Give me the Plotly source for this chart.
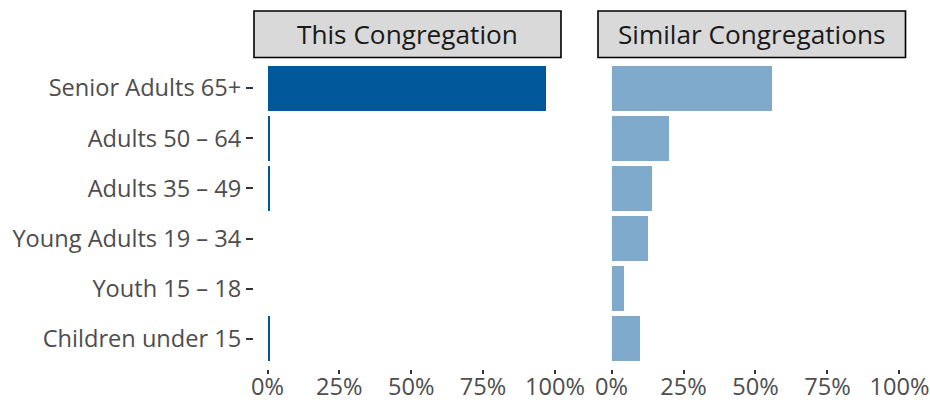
import plotly.graph_objects as go

categories = ["Senior Adults 65+", "Adults 50 – 64", "Adults 35 – 49",
              "Young Adults 19 – 34", "Youth 15 – 18", "Children under 15"]
this_congregation = [0.97, 0.01, 0.01, 0.0, 0.0, 0.01]
similar_congregations = [0.556, 0.198, 0.139, 0.125, 0.045, 0.10]
panel_titles = ["This Congregation", "Similar Congregations"]
x_tickvals = [0, 0.25, 0.5, 0.75, 1.0]
x_ticktext = ["0%", "25%", "50%", "75%", "100%"]

W, H = 930, 402
FONT = "Open Sans"
TICK_SIZE = 23.6
STRIP_SIZE = 26.2

fig = go.Figure()
fig.add_trace(go.Bar(y=categories, x=this_congregation, orientation="h",
                     marker=dict(color="#00579A", line=dict(width=0)),
                     width=0.9, xaxis="x", yaxis="y", showlegend=False))
fig.add_trace(go.Bar(y=categories, x=similar_congregations, orientation="h",
                     marker=dict(color="#7FAACC", line=dict(width=0)),
                     width=0.9, xaxis="x2", yaxis="y2", showlegend=False))

def px_x(p):
    return p / W

def px_y(p):
    return 1 - p / H

left_dom = [px_x(254), px_x(561)]
right_dom = [px_x(598), px_x(905.5)]
y_dom = [px_y(369), px_y(58)]
xr = [-0.047, 1.021]

xaxis_common = dict(range=xr, tickvals=x_tickvals, ticktext=x_ticktext,
                    showgrid=False, zeroline=False, showline=False, automargin=False,
                    ticks="outside", ticklen=4, tickwidth=1.5, tickcolor="#333333",
                    ticklabelstandoff=-7,
                    tickfont=dict(family=FONT, size=TICK_SIZE, color="#4D4D4D"),
                    fixedrange=True)
fig.update_layout(
    width=W, height=H, autosize=False,
    margin=dict(l=0, r=0, t=0, b=0, pad=0, autoexpand=False),
    paper_bgcolor="white", plot_bgcolor="white",
    bargap=0,
    xaxis=dict(domain=left_dom, anchor="y", **xaxis_common),
    xaxis2=dict(domain=right_dom, anchor="y2", **xaxis_common),
    yaxis=dict(domain=y_dom, anchor="x", categoryorder="array",
               categoryarray=categories[::-1], range=[-0.6, 5.6], automargin=False,
               showgrid=False, zeroline=False, showline=False,
               ticks="outside", ticklen=7, tickwidth=2, tickcolor="#333333",
               tickfont=dict(family=FONT, size=TICK_SIZE, color="#4D4D4D")),
    yaxis2=dict(domain=y_dom, anchor="x2", matches="y", categoryorder="array",
                categoryarray=categories[::-1], range=[-0.6, 5.6], automargin=False,
                showgrid=False, zeroline=False, showline=False,
                showticklabels=False, ticks=""),
)

for dom, title in zip([left_dom, right_dom], panel_titles):
    fig.add_shape(type="rect", xref="paper", yref="paper",
                  x0=dom[0], x1=dom[1], y0=px_y(57.5), y1=px_y(11),
                  fillcolor="#D9D9D9", line=dict(color="black", width=1.6),
                  layer="below")
    fig.add_annotation(x=(dom[0] + dom[1]) / 2, y=px_y(34), xref="paper", yref="paper",
                       text=title, showarrow=False, xanchor="center", yanchor="middle",
                       font=dict(family=FONT, size=STRIP_SIZE, color="#1A1A1A"))

post = ("document.body.style.margin='0px';"
        "document.body.style.overflow='hidden';"
        "var gd=document.getElementById('{plot_id}');"
        "Plotly.relayout(gd,{width:930,height:402});")
fig.write_html("out.html", config={"responsive": False, "displayModeBar": False},
               post_script=post)
